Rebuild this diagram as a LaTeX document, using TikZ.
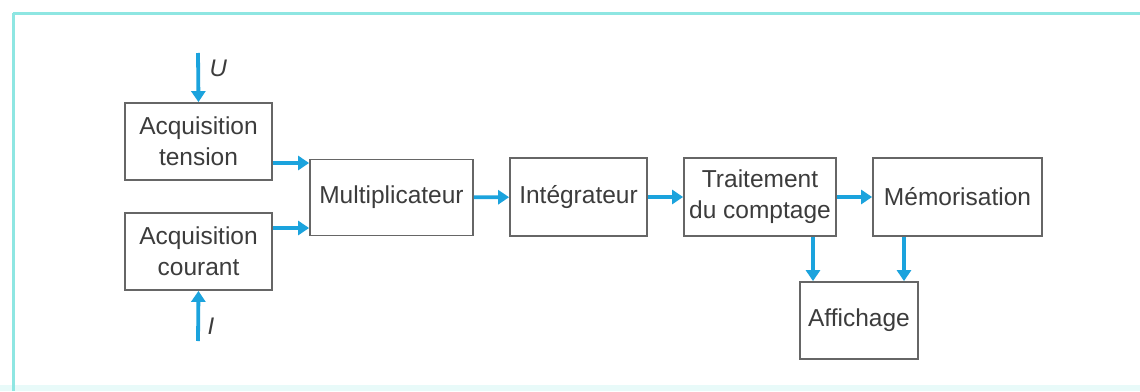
\documentclass[tikz,border=0pt]{standalone}
\usepackage{fontspec}
\setmainfont{Liberation Sans}
\usetikzlibrary{arrows.meta}
\definecolor{flow}{HTML}{1BA3DD}
\definecolor{frame}{HTML}{8EE6E2}
\definecolor{ink}{HTML}{3C3C3C}
\definecolor{edge}{HTML}{666666}
\tikzset{
  block/.style={draw=edge, line width=1.8pt, fill=white, text=ink, align=center,
    font=\fontsize{24.5}{31}\selectfont, inner sep=0pt},
  flowarrow/.style={draw=flow, line width=3.8pt, -{Triangle[length=11pt,width=14pt]}},
  sig/.style={text=ink, font=\fontsize{24}{28}\selectfont\itshape}
}
\begin{document}
\begin{tikzpicture}[x=1pt,y=-1pt]
  \useasboundingbox (0,0) rectangle (1140,391);
  \fill[white] (0,0) rectangle (1140,391);
  % outer frame
  \fill[frame!20] (0,385) rectangle (1140,391);
  \draw[frame, line width=3pt] (13,13) -- (1140,13);
  \draw[frame, line width=3pt] (13,13) -- (13,391);

  % blocks
  \node[block, minimum width=147pt, minimum height=77pt] (tens) at (198.5,141.5) {Acquisition\\tension};
  \node[block, minimum width=147pt, minimum height=77pt] (cour) at (198.5,251.5) {Acquisition\\courant};
  \node[block, minimum width=163pt, minimum height=76pt] (mult) at (391.5,197.5) {Multiplicateur};
  \node[block, minimum width=137pt, minimum height=78pt] (integ) at (578.5,197) {Intégrateur};
  \node[block, minimum width=152pt, minimum height=78pt] (trait) at (760,197) {Traitement\\du comptage};
  \node[block, minimum width=169pt, minimum height=78pt] (memo) at (957.5,197) {Mémorisation};
  \node[block, minimum width=118pt, minimum height=77pt] (aff) at (859,320.5) {Affichage};

  % free ends of the inputs
  \coordinate (uin) at (198,53);
  \coordinate (iin) at (198,341);

  % connectors
  \draw[flowarrow] (uin) -- (tens.north);
  \draw[flowarrow] (iin) -- (cour.south);
  \draw[flowarrow] (tens.east |- 0,163) -- (mult.west |- 0,163);
  \draw[flowarrow] (cour.east |- 0,228) -- (mult.west |- 0,228);
  \draw[flowarrow] (mult) -- (integ);
  \draw[flowarrow] (integ) -- (trait);
  \draw[flowarrow] (trait) -- (memo);
  \draw[flowarrow] (trait.south -| 813,0) -- (aff.north -| 813,0);
  \draw[flowarrow] (memo.south -| 904,0) -- (aff.north -| 904,0);

  % signal labels
  \node[sig, anchor=west] (ulab) at (206,68) {U};
  \node[sig, anchor=west] (ilab) at (204,326) {I};
\end{tikzpicture}
\end{document}
